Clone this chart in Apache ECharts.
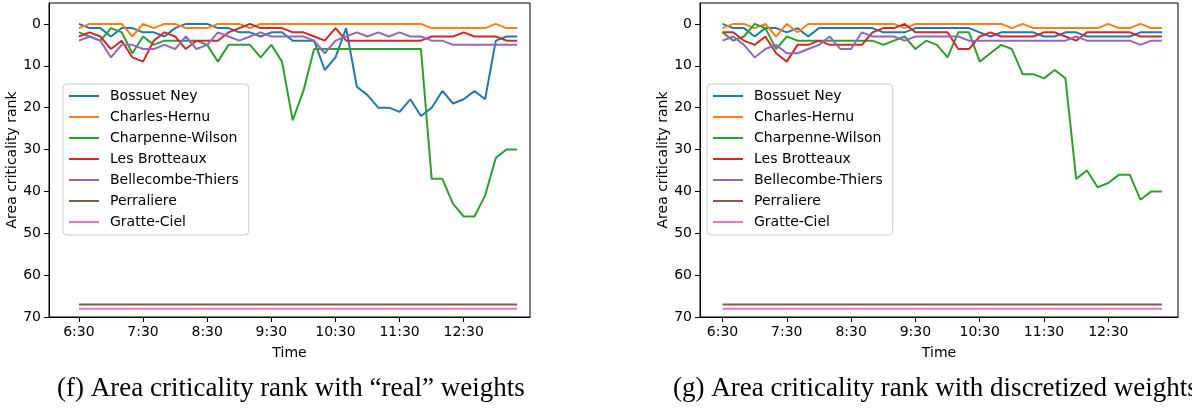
<!DOCTYPE html>
<html>
<head>
<meta charset="utf-8">
<script src="https://cdn.jsdelivr.net/npm/echarts@6/dist/echarts.min.js"></script>
<style>
html, body { margin: 0; padding: 0; background: #fff; }
#grafico { width: 1192px; height: 411px; }
</style>
</head>
<body>
<div id="grafico"></div>
<script>
// time steps (10 min) and tick labels
var times = ['6:30','6:40','6:50','7:00','7:10','7:20','7:30','7:40','7:50','8:00',
  '8:10','8:20','8:30','8:40','8:50','9:00','9:10','9:20','9:30','9:40',
  '9:50','10:00','10:10','10:20','10:30','10:40','10:50','11:00','11:10','11:20',
  '11:30','11:40','11:50','12:00','12:10','12:20','12:30','12:40','12:50','13:00',
  '13:10','13:20'];
var tickLabels = ['6:30','7:30','8:30','9:30','10:30','11:30','12:30'];
var rankTicks = [0, 10, 20, 30, 40, 50, 60, 70];

var areas = ['Bossuet Ney', 'Charles-Hernu', 'Charpenne-Wilson', 'Les Brotteaux',
  'Bellecombe-Thiers', 'Perraliere', 'Gratte-Ciel'];
var colors = ['#1f77b4', '#ff7f0e', '#2ca02c', '#d62728', '#9467bd', '#8c564b', '#e377c2'];

// (f) "real" weights
var bossuetReal = [0,1,1,3,1,1,2,2,3,1, 0,0,0,1,1,2,2,3,2,2, 4,4,4,11,8,1,15,17,20,20, 21,18,22,20,16,19,18,16,18,4, 3,3];
var charlesReal = [1,0,0,0,0,3,0,1,0,0, 1,1,1,0,0,0,1,0,0,0, 0,0,0,0,0,0,0,0,0,0, 0,0,0,1,1,1,1,1,1,0, 1,1];
var charpenneReal = [2,3,4,1,2,7,3,5,4,4, 4,4,5,9,5,5,5,8,5,9, 23,16,6,6,6,6,6,6,6,6, 6,6,6,37,37,43,46,46,41,32, 30,30];
var brotteauxReal = [3,2,3,6,4,8,9,4,2,3, 6,4,4,4,2,1,0,1,1,1, 2,2,3,4,1,4,4,4,4,4, 4,4,4,3,3,3,2,3,3,3, 4,4];
var bellecombeReal = [4,3,4,8,5,5,6,6,5,6, 3,6,5,2,3,4,3,2,3,3, 3,3,4,7,4,3,2,3,2,3, 2,3,3,4,4,5,5,5,5,5, 5,5];
var perraliereReal = [67,67,67,67,67,67,67,67,67,67, 67,67,67,67,67,67,67,67,67,67, 67,67,67,67,67,67,67,67,67,67, 67,67,67,67,67,67,67,67,67,67, 67,67];
var gratteCielReal = [68,68,68,68,68,68,68,68,68,68, 68,68,68,68,68,68,68,68,68,68, 68,68,68,68,68,68,68,68,68,68, 68,68,68,68,68,68,68,68,68,68, 68,68];

// (g) discretized weights
var bossuetDisc = [0,1,1,3,1,1,2,1,3,1, 1,1,1,1,1,2,2,2,1,1, 1,1,1,1,2,3,2,2,2,2, 3,3,2,2,3,3,3,3,3,2, 2,2];
var charlesDisc = [1,0,0,1,0,3,0,2,0,0, 0,0,0,0,0,0,0,1,0,0, 0,0,0,0,0,0,0,1,0,1, 1,1,1,1,1,1,0,1,1,0, 1,1];
var charpenneDisc = [2,4,3,0,1,6,3,4,4,4, 4,4,4,4,4,5,4,3,6,4, 5,8,2,2,9,7,5,6,12,12, 13,11,13,37,35,39,38,36,36,42, 40,40];
var brotteauxDisc = [2,2,4,5,3,7,9,5,5,4, 5,5,5,5,2,1,1,0,2,2, 2,2,6,6,3,2,3,3,3,3, 2,2,3,4,2,2,2,2,2,3, 3,3];
var bellecombeDisc = [4,3,5,8,6,5,7,7,6,5, 3,6,6,2,3,3,3,4,3,3, 3,3,3,4,4,4,4,4,4,4, 4,4,4,3,4,4,4,4,4,5, 4,4];
var perraliereDisc = [67,67,67,67,67,67,67,67,67,67, 67,67,67,67,67,67,67,67,67,67, 67,67,67,67,67,67,67,67,67,67, 67,67,67,67,67,67,67,67,67,67, 67,67];
var gratteCielDisc = [68,68,68,68,68,68,68,68,68,68, 68,68,68,68,68,68,68,68,68,68, 68,68,68,68,68,68,68,68,68,68, 68,68,68,68,68,68,68,68,68,68, 68,68];

var realSeries = [bossuetReal, charlesReal, charpenneReal, brotteauxReal, bellecombeReal, perraliereReal, gratteCielReal];
var discSeries = [bossuetDisc, charlesDisc, charpenneDisc, brotteauxDisc, bellecombeDisc, perraliereDisc, gratteCielDisc];

var tickIdx = tickLabels.map(function (t) { return times.indexOf(t); });

var font = 'DejaVu Sans';

function makeX(g, min, max) {
  return {
    type: 'value', gridIndex: g, min: min, max: max,
    splitLine: { show: false },
    axisLine: { onZero: false, lineStyle: { color: '#000', width: 1 } },
    axisTick: { show: true, length: 5, customValues: tickIdx, lineStyle: { color: '#000' } },
    axisLabel: {
      customValues: tickIdx, color: '#000', fontSize: 14, fontFamily: font, margin: 8,
      formatter: function (v) { return times[v]; }
    },
    name: 'Time', nameLocation: 'middle', nameGap: 29,
    nameTextStyle: { color: '#000', fontSize: 14, fontFamily: font }
  };
}

function makeY(g) {
  return {
    type: 'value', gridIndex: g, inverse: true, min: -5, max: 70,
    splitLine: { show: false },
    axisLine: { show: true, onZero: false, lineStyle: { color: '#000', width: 1 } },
    axisTick: { show: true, length: 5, customValues: rankTicks, lineStyle: { color: '#000' } },
    axisLabel: { customValues: rankTicks, color: '#000', fontSize: 14, fontFamily: font, margin: 8 },
    name: 'Area criticality rank', nameLocation: 'middle', nameGap: 27, nameRotate: 90,
    nameTextStyle: { color: '#000', fontSize: 14, fontFamily: font }
  };
}

function makeLegend(left) {
  return {
    left: left, top: 84, orient: 'vertical', data: areas,
    icon: 'rect', itemWidth: 30, itemHeight: 2, itemGap: 5,
    backgroundColor: '#fff', borderColor: '#cccccc', borderWidth: 1, borderRadius: 4,
    padding: [4, 10, 5, 6], selectedMode: false,
    textStyle: { color: '#000', fontSize: 14, fontFamily: font, lineHeight: 16, padding: [0, 0, 0, 6] }
  };
}

var series = [];
[realSeries, discSeries].forEach(function (set, g) {
  set.forEach(function (vals, k) {
    series.push({
      name: areas[k], type: 'line', xAxisIndex: g, yAxisIndex: g,
      showSymbol: false, symbol: 'none',
      lineStyle: { color: colors[k], width: 2 },
      itemStyle: { color: colors[k] },
      data: vals.map(function (v, i) { return [i, v]; })
    });
  });
});

var captionStyle = { fontFamily: 'Liberation Serif', fontSize: 27, fontWeight: 'normal', color: '#000' };

var chartDom = document.getElementById('grafico');
var myChart = echarts.init(chartDom);
var option = {
  animation: false,
  backgroundColor: '#fff',
  title: [
    { text: '(f) Area criticality rank with \u201creal\u201d weights', left: 57, top: 375, padding: 0,
      textStyle: captionStyle },
    { text: '(g) Area criticality rank with discretized weights', left: 673, top: 375, padding: 0,
      textStyle: captionStyle }
  ],
  legend: [makeLegend(63), makeLegend(707)],
  grid: [
    { left: 49, top: 3, width: 481, height: 314, show: true, borderColor: '#000', borderWidth: 1 },
    { left: 700, top: 3, width: 478, height: 314, show: true, borderColor: '#000', borderWidth: 1 }
  ],
  xAxis: [makeX(0, -2.8, 42.2), makeX(1, -2.1, 42.5)],
  yAxis: [makeY(0), makeY(1)],
  series: series
};

option && myChart.setOption(option);
</script>
</body>
</html>
